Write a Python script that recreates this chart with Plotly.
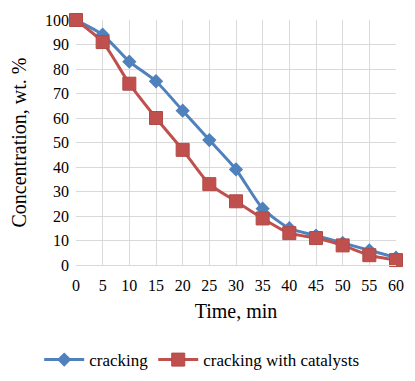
import plotly.graph_objects as go

time = [0, 5, 10, 15, 20, 25, 30, 35, 40, 45, 50, 55, 60]
cracking = [100, 94, 83, 75, 63, 51, 39, 23, 15, 12, 9, 6, 3]
catalysts = [100, 91, 74, 60, 47, 33, 26, 19, 13, 11, 8, 4, 2]

FONT = "Times New Roman, Liberation Serif, serif"
fig = go.Figure()
fig.add_trace(go.Scatter(x=time, y=cracking, name="cracking", mode="lines+markers",
                         line=dict(color="#4F81BD", width=3, shape="spline", smoothing=0.6),
                         marker=dict(symbol="diamond", size=11, color="#4F81BD"),
                         cliponaxis=False))
fig.add_trace(go.Scatter(x=time, y=catalysts, name="cracking with catalysts", mode="lines+markers",
                         line=dict(color="#C0504D", width=3, shape="spline", smoothing=0.6),
                         marker=dict(symbol="square", size=13, color="#C0504D",
                                     line=dict(color="#B04A47", width=1)),
                         cliponaxis=False))

fig.update_layout(
    width=407, height=373,
    margin=dict(l=68, r=19, t=12, b=116, autoexpand=False),
    paper_bgcolor="white", plot_bgcolor="white",
    font=dict(family=FONT, size=16, color="#000000"),
    xaxis=dict(range=[0, 60], tickvals=time, showgrid=True, gridcolor="#D9D9D9", gridwidth=1,
               zeroline=False, showline=True, linecolor="#D9D9D9", ticks="",
               ticklabelstandoff=6, automargin=False,
               title=dict(text="Time, min", font=dict(size=20, family=FONT), standoff=10),
               tickfont=dict(size=16, family=FONT)),
    yaxis=dict(range=[0, 100], dtick=10, showgrid=True, gridcolor="#D9D9D9", gridwidth=1,
               zeroline=False, showline=False, ticks="", automargin=False,
               ticklabelstandoff=6,
               title=dict(text="Concentration, wt. %", font=dict(size=20, family=FONT), standoff=16),
               tickfont=dict(size=16, family=FONT)),
    legend=dict(orientation="h", x=-0.115, xanchor="left", y=-0.388, yanchor="middle",
                font=dict(size=17, family=FONT), itemwidth=40),
    showlegend=True,
)
fig.write_html("out.html")
